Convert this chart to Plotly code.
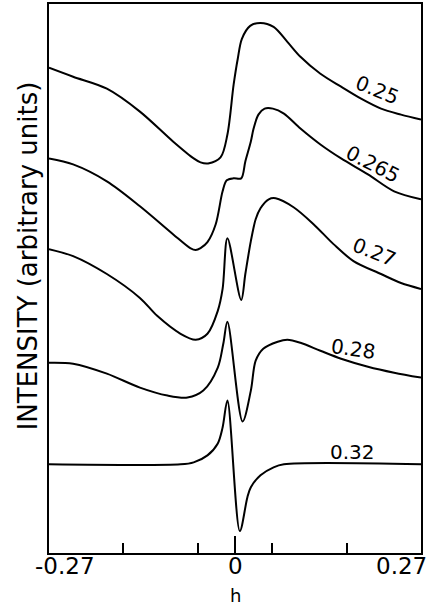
import plotly.graph_objects as go

# h values (x) and intensity (arbitrary units)
h_025 = [-0.27, -0.235, -0.186, -0.138, -0.090, -0.060, -0.050, -0.039, -0.021, -0.011, -0.002, 0.004, 0.010, 0.022, 0.037, 0.056, 0.076, 0.095, 0.124, 0.154, 0.183, 0.212, 0.241, 0.27]
i_025 = [487, 478, 466, 443, 413, 396, 392, 391, 397, 420, 470, 496, 516, 529, 532, 528, 513, 498, 481, 468, 456, 446, 440, 435]

h_0265 = [-0.27, -0.235, -0.186, -0.138, -0.090, -0.065, -0.057, -0.050, -0.040, -0.028, -0.018, -0.012, -0.002, 0.009, 0.015, 0.023, 0.027, 0.034, 0.043, 0.055, 0.071, 0.095, 0.124, 0.154, 0.193, 0.231, 0.27]
i_0265 = [396, 390, 373, 348, 320, 306, 304, 306, 312, 330, 363, 374, 376, 376, 393, 413, 426, 440, 446, 446, 441, 426, 410, 396, 380, 363, 355]

h_027 = [-0.27, -0.235, -0.186, -0.138, -0.113, -0.079, -0.057, -0.040, -0.025, -0.018, -0.011, 0.009, 0.015, 0.023, 0.030, 0.037, 0.049, 0.059, 0.085, 0.114, 0.143, 0.172, 0.212, 0.241, 0.27]
i_027 = [305, 298, 280, 256, 238, 220, 214, 220, 243, 265, 316, 254, 280, 313, 335, 346, 355, 356, 347, 330, 310, 293, 280, 271, 265]

h_028 = [-0.27, -0.235, -0.186, -0.138, -0.098, -0.069, -0.046, -0.025, -0.017, -0.011, 0.011, 0.023, 0.030, 0.041, 0.062, 0.076, 0.095, 0.124, 0.154, 0.193, 0.231, 0.27]
i_028 = [191, 190, 180, 166, 158, 156, 163, 186, 210, 232, 132, 163, 193, 205, 212, 214, 211, 203, 195, 187, 181, 176]

h_032 = [-0.27, -0.079, -0.060, -0.040, -0.025, -0.018, -0.011, 0.007, 0.018, 0.023, 0.037, 0.056, 0.071, 0.27]
i_032 = [89, 89, 91, 98, 110, 126, 153, 22, 56, 66, 78, 86, 89, 89]

series = [("0.25", h_025, i_025), ("0.265", h_0265, i_0265), ("0.27", h_027, i_027),
          ("0.28", h_028, i_028), ("0.32", h_032, i_032)]

# curve labels: text, h, intensity, angle
label_text = ["0.25", "0.265", "0.27", "0.28", "0.32"]
label_h = [0.207, 0.200, 0.202, 0.172, 0.171]
label_i = [465, 390, 302, 205, 101]
label_angle = [22, 27, 22, 8, 0]

x_tick_labels = ["-0.27", "0", "0.27"]
x_tick_vals = [-0.27, 0, 0.27]
minor_ticks = [-0.162, -0.054, 0.054, 0.162]

FONT = "DejaVu Sans"
fig = go.Figure()
for name, hx, iy in series:
    fig.add_trace(go.Scatter(x=hx, y=iy, mode="lines", name=name,
                             line=dict(color="black", width=2, shape="spline", smoothing=0.9),
                             showlegend=False, hoverinfo="skip"))

for t, hx, iy, a in zip(label_text, label_h, label_i, label_angle):
    fig.add_annotation(x=hx, y=iy, xref="x", yref="y", text=t, showarrow=False,
                       textangle=a, font=dict(family=FONT, size=20, color="black"))

shifts = [16, 0, -20]
for t, v, s in zip(x_tick_labels, x_tick_vals, shifts):
    fig.add_annotation(x=v, y=-0.0236, xref="x", yref="paper", text=t, showarrow=False,
                       xshift=s, yanchor="middle", font=dict(family=FONT, size=23, color="black"))

fig.add_annotation(x=0, y=-0.077, xref="x", yref="paper", text="h", showarrow=False,
                   yanchor="middle", font=dict(family=FONT, size=18, color="black"))

fig.add_annotation(x=-0.054, y=0.542, xref="paper", yref="paper", text="INTENSITY (arbitrary units)",
                   showarrow=False, textangle=-90, xanchor="center", yanchor="middle",
                   font=dict(family=FONT, size=26, color="black"))

fig.update_layout(
    width=430, height=609,
    margin=dict(l=49, r=9, t=2, b=56),
    paper_bgcolor="white", plot_bgcolor="white",
    xaxis=dict(range=[-0.27, 0.27], showgrid=False, zeroline=False,
               showline=True, mirror=True, linecolor="black", linewidth=2,
               ticks="inside", tickvals=[0], ticklen=17, tickwidth=1.5, tickcolor="black",
               showticklabels=False,
               minor=dict(tickvals=minor_ticks, ticks="inside", ticklen=10, tickwidth=1.5, tickcolor="black")),
    yaxis=dict(range=[0, 551], showgrid=False, zeroline=False,
               showline=True, mirror=True, linecolor="black", linewidth=2,
               showticklabels=False, ticks=""),
)

fig.write_html("out.html", config={"displayModeBar": False},
               post_script="document.body.style.margin='0';document.body.style.overflow='hidden';")
